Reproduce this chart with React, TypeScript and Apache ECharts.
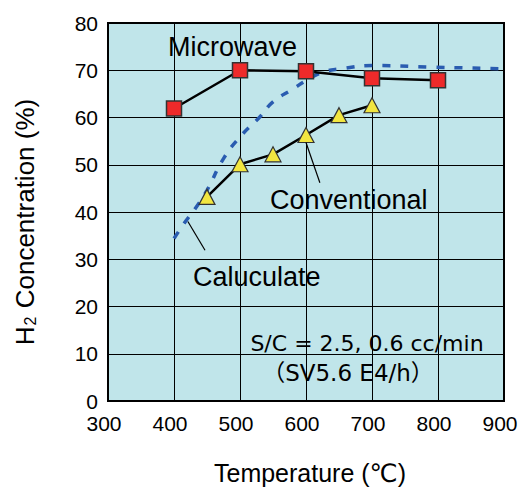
import React, { useEffect, useRef } from "react";
import * as echarts from "echarts";

const xTicks = [300, 400, 500, 600, 700, 800, 900];
const microwaveT = [400, 500, 600, 700, 800];
const microwaveH2 = [61.9, 70.0, 69.8, 68.3, 67.9];
const conventionalT = [450, 500, 550, 600, 650, 700];
const conventionalH2 = [43.2, 50.1, 52.2, 56.3, 60.5, 62.6];
const calcT = [400, 419, 432, 450, 475, 502, 530, 550, 581, 601, 626, 652, 702, 783, 900];
const calcH2 = [34.4, 38.3, 40.7, 44.6, 51.3, 56.2, 60.1, 63.3, 66.1, 67.9, 69.6, 70.3, 71.0, 70.7, 70.3];
const convCallout = [[600, 54.7], [621, 46.2]];
const calcCallout = [[421, 38.0], [447, 31.9]];

const FONT = "'Liberation Sans', Arial, sans-serif";

export default function App() {
  const ref = useRef<HTMLDivElement>(null);
  useEffect(() => {
    if (!ref.current) return;
    const chart = echarts.init(ref.current, null, { renderer: "svg" });
    const zip = (a: number[], b: number[]) => a.map((v, i) => [v, b[i]]);
    chart.setOption({
      animation: false,
      backgroundColor: "#ffffff",
      grid: {
        left: 108,
        right: 15,
        top: 23,
        bottom: 86,
        show: true,
        containLabel: false,
        outerBoundsMode: "none",
        backgroundColor: "#c0e5ea",
        borderColor: "#000",
        borderWidth: 2,
      },
      xAxis: {
        type: "value",
        min: xTicks[0],
        max: xTicks[xTicks.length - 1],
        interval: 100,
        axisLine: { show: true, lineStyle: { color: "#000", width: 2 } },
        axisTick: { show: false },
        axisLabel: { color: "#000", fontSize: 21, fontFamily: FONT, margin: 12, padding: [0, 8, 0, 0] },
        splitLine: { show: true, lineStyle: { color: "#000", width: 1 } },
      },
      yAxis: {
        type: "value",
        min: 0,
        max: 80,
        interval: 10,
        axisLine: { show: true, lineStyle: { color: "#000", width: 2 } },
        axisTick: { show: false },
        axisLabel: { color: "#000", fontSize: 21, fontFamily: FONT, margin: 10 },
        splitLine: { show: true, lineStyle: { color: "#000", width: 1 } },
      },
      series: [
        {
          name: "Calculate",
          type: "line",
          data: zip(calcT, calcH2),
          smooth: true,
          symbol: "none",
          lineStyle: { color: "#2a5cb0", width: 3.5, type: [8, 10] },
          z: 2,
        },
        {
          name: "Microwave",
          type: "line",
          data: zip(microwaveT, microwaveH2),
          symbol: "rect",
          symbolSize: 15,
          lineStyle: { color: "#000", width: 2.5 },
          itemStyle: { color: "#ee2a2a", borderColor: "#333", borderWidth: 1.5 },
          z: 3,
        },
        {
          name: "Conventional",
          type: "line",
          data: zip(conventionalT, conventionalH2),
          symbol: "triangle",
          symbolSize: [16, 15],
          lineStyle: { color: "#000", width: 2.5 },
          itemStyle: { color: "#f2e640", borderColor: "#333", borderWidth: 1.2 },
          z: 3,
          markLine: {
            silent: true,
            symbol: "none",
            label: { show: false },
            lineStyle: { color: "#000", width: 1.2, type: "solid" },
            data: [
              [{ coord: convCallout[0] }, { coord: convCallout[1] }],
              [{ coord: calcCallout[0] }, { coord: calcCallout[1] }],
            ],
          },
        },
      ],
      graphic: [
        {
          type: "text",
          x: 168,
          y: 47,
          style: { text: "Microwave", fontSize: 27, fontFamily: FONT, fill: "#000", verticalAlign: "middle" },
          z: 10,
        },
        {
          type: "text",
          x: 270,
          y: 200,
          style: { text: "Conventional", fontSize: 27, fontFamily: FONT, fill: "#000", verticalAlign: "middle" },
          z: 10,
        },
        {
          type: "text",
          x: 193,
          y: 277,
          style: { text: "Caluculate", fontSize: 27, fontFamily: FONT, fill: "#000", verticalAlign: "middle" },
          z: 10,
        },
        {
          type: "text",
          x: 367,
          y: 343,
          style: {
            text: "S/C = 2.5, 0.6 cc/min",
            fontSize: 22,
            fontFamily: "'DejaVu Sans', sans-serif",
            fill: "#000",
            align: "center",
            verticalAlign: "middle",
          },
          z: 10,
        },
        {
          type: "text",
          x: 348,
          y: 373,
          style: {
            text: "（SV5.6 E4/h）",
            fontSize: 23,
            fontFamily: "'DejaVu Sans', 'Noto Sans CJK JP', sans-serif",
            fill: "#000",
            align: "center",
            verticalAlign: "middle",
          },
          z: 10,
        },
        {
          type: "text",
          x: 310,
          y: 473,
          style: {
            text: "Temperature (℃)",
            fontSize: 25,
            fontFamily: FONT + ", 'DejaVu Sans', 'Noto Sans CJK JP'",
            fill: "#000",
            align: "center",
            verticalAlign: "middle",
          },
        },
        {
          type: "text",
          x: 23,
          y: 222,
          rotation: Math.PI / 2,
          style: {
            text: "{a|H}{b|2}{a| Concentration (%)}",
            align: "center",
            verticalAlign: "middle",
            fill: "#000",
            rich: {
              a: { fontSize: 26, fontFamily: FONT, fill: "#000", lineHeight: 30, verticalAlign: "bottom" },
              b: { fontSize: 16, fontFamily: FONT, fill: "#000", lineHeight: 30, verticalAlign: "bottom", padding: [0, 1, 0, 1] },
            },
          },
        },
      ],
    });
    return () => chart.dispose();
  }, []);
  return <div ref={ref} style={{ position: "fixed", left: 0, top: 0, width: 519, height: 487 }} />;
}
